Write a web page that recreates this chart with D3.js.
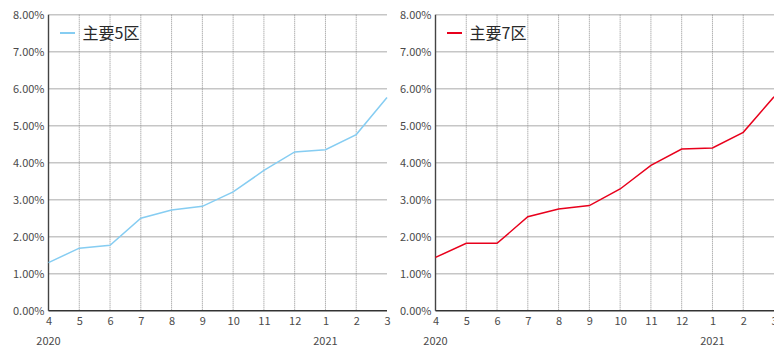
<!DOCTYPE html>
<html>
<head>
<meta charset="utf-8">
<script src="https://cdn.jsdelivr.net/npm/d3@7"></script>
<style>
  html, body { margin: 0; padding: 0; background: #fff; }
  svg { display: block; }
  text { font-family: "Noto Sans CJK JP", "Noto Sans", sans-serif; }
</style>
</head>
<body>
<svg id="chart" width="774" height="347"></svg>
<script>
// Monthly values, April 2020 to March 2021 (percent)
const months = ["4", "5", "6", "7", "8", "9", "10", "11", "12", "1", "2", "3"];
const area5 = [1.30, 1.69, 1.77, 2.50, 2.72, 2.82, 3.21, 3.79, 4.29, 4.35, 4.76, 5.76];
const area7 = [1.44, 1.82, 1.82, 2.54, 2.75, 2.84, 3.29, 3.93, 4.37, 4.40, 4.82, 5.78];
const yTicks = [0, 1, 2, 3, 4, 5, 6, 7, 8];
const yearLabels = ["2020", "2021"];
const yearMonthIndex = [0, 9];          // month under which each year label sits

const panels = [
  { name: "主要5区", values: area5, color: "#86cdf2", x0: 48.5 },
  { name: "主要7区", values: area7, color: "#e8001c", x0: 435.5 }
];

const svg = d3.select("#chart");
const plotTop = 14.7, plotBottom = 310.7, plotW = 338.5;

panels.forEach(p => {
  const x = d3.scalePoint().domain(d3.range(months.length)).range([p.x0, p.x0 + plotW]);
  const y = d3.scaleLinear().domain([0, 8]).range([plotBottom, plotTop]);
  const g = svg.append("g");

  // horizontal grid lines
  g.selectAll("line.h").data(yTicks.filter(t => t > 0)).join("line")
    .attr("x1", p.x0).attr("x2", p.x0 + plotW)
    .attr("y1", d => y(d)).attr("y2", d => y(d))
    .attr("stroke", "#c6c6c6").attr("stroke-width", 1.6);

  // vertical dotted grid lines
  g.selectAll("line.v").data(d3.range(1, months.length - 1)).join("line")
    .attr("x1", d => x(d)).attr("x2", d => x(d))
    .attr("y1", plotTop).attr("y2", plotBottom)
    .attr("stroke", "#8f8f8f").attr("stroke-width", 1)
    .attr("stroke-dasharray", "1,1");

  // y axis
  const yAxis = d3.axisLeft(y).tickValues(yTicks).tickSize(0).tickPadding(4)
    .tickFormat(d => d.toFixed(2) + "%");
  const ya = g.append("g").attr("transform", `translate(${p.x0},0)`).call(yAxis);
  ya.select(".domain").remove();
  ya.selectAll("text").attr("fill", "#4a4a4a").attr("font-size", 11);

  // x axis
  const xAxis = d3.axisBottom(x).tickSize(0).tickPadding(7).tickFormat(i => months[i]);
  const xa = g.append("g").attr("transform", `translate(0,${plotBottom})`).call(xAxis);
  xa.select(".domain").remove();
  xa.selectAll("text").attr("fill", "#4a4a4a").attr("font-size", 11);

  // axis lines
  g.append("line").attr("x1", p.x0).attr("x2", p.x0).attr("y1", plotTop).attr("y2", plotBottom)
    .attr("stroke", "#444").attr("stroke-width", 1.4);
  g.append("line").attr("x1", p.x0).attr("x2", p.x0 + plotW).attr("y1", plotBottom).attr("y2", plotBottom)
    .attr("stroke", "#333").attr("stroke-width", 1.4);

  // year labels
  g.selectAll("text.year").data(yearLabels).join("text")
    .attr("x", (d, i) => x(yearMonthIndex[i])).attr("y", 345)
    .attr("text-anchor", "middle").attr("font-size", 11).attr("fill", "#4a4a4a")
    .text(d => d);

  // series line
  const line = d3.line().x((d, i) => x(i)).y(d => y(d));
  g.append("path").datum(p.values).attr("d", line)
    .attr("fill", "none").attr("stroke", p.color).attr("stroke-width", 1.5);

  // legend
  g.append("line").attr("x1", p.x0 + 11.5).attr("x2", p.x0 + 26.5).attr("y1", 33).attr("y2", 33)
    .attr("stroke", p.color).attr("stroke-width", 2);
  g.append("text").attr("x", p.x0 + 34).attr("y", 39).attr("font-size", 16)
    .attr("fill", "#2a2a2a").text(p.name);
});
</script>
</body>
</html>
